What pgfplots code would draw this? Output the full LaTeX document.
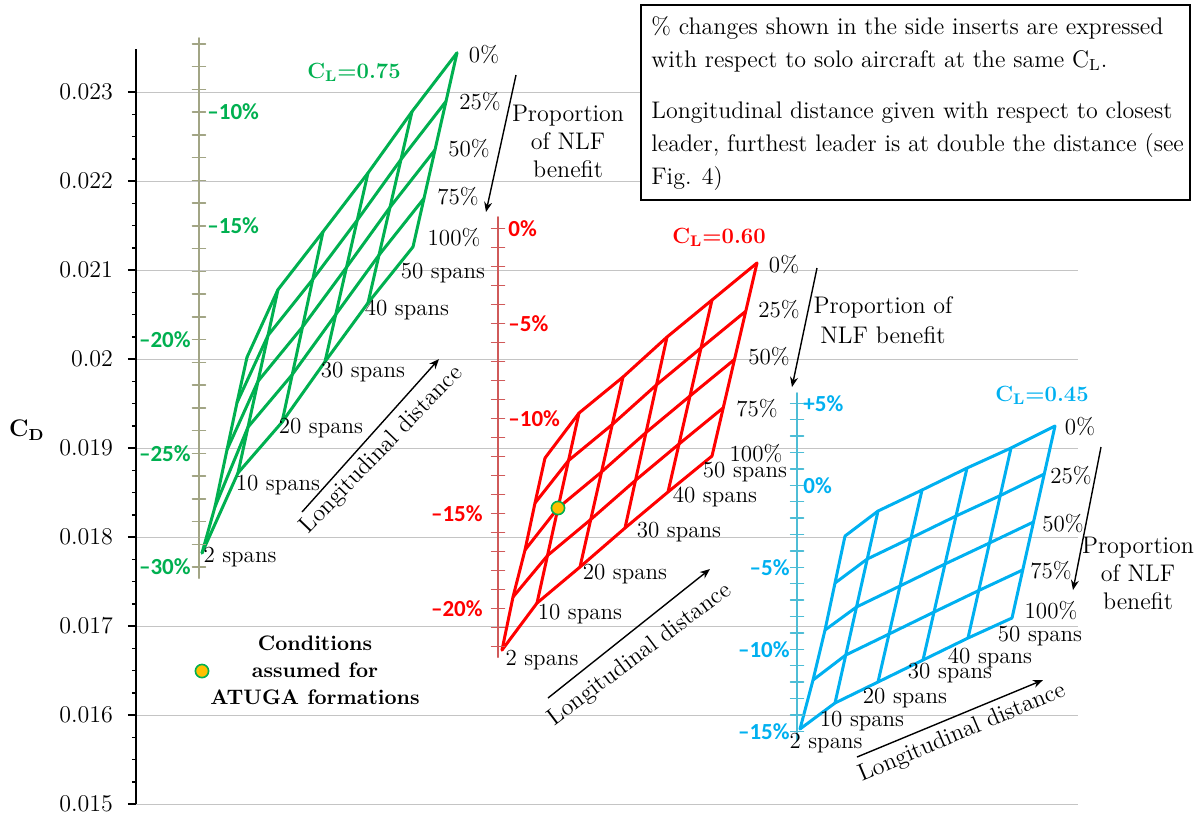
\documentclass[border=0pt]{standalone}
\usepackage{fontspec}
\usepackage{pgfplots}
\pgfplotsset{compat=1.18}
\usetikzlibrary{arrows.meta}
\newfontfamily\carlito{Carlito}
\definecolor{cg}{HTML}{00B050}
\definecolor{cr}{HTML}{FF0000}
\definecolor{cb}{HTML}{00B0F0}
\definecolor{ig}{HTML}{A2A585}
\definecolor{ir}{HTML}{D05A5A}
\definecolor{ib}{HTML}{4DBDD6}
\definecolor{orng}{HTML}{FFC000}
\definecolor{gridc}{HTML}{C4C4C4}
\newcommand\ft{\fontsize{11.5}{14}\selectfont}
\newcommand\insfont{\carlito\bfseries\fontsize{11.5}{14}\selectfont}
\tikzset{lab/.style={font=\ft, inner sep=0pt},
  arr/.style={-{Stealth[length=5pt,width=4pt]}, line width=0.7pt}}
\begin{document}
\begin{tikzpicture}
\begin{axis}[
  scale only axis, width=471pt, height=377.5pt,
  xmin=136, xmax=1078, ymin=0.015, ymax=0.023483,
  axis x line=none, axis y line*=left,
  ytick={0.015,0.016,0.017,0.018,0.019,0.020,0.021,0.022,0.023},
  yticklabels={0.015,0.016,0.017,0.018,0.019,0.02,0.021,0.022,0.023},
  scaled y ticks=false,
  minor y tick num=3,
  tick align=outside,
  major tick length=4pt, minor tick length=2pt,
  ymajorgrids, major grid style={draw=gridc, line width=0.5pt},
  y axis line style={line width=1pt, black},
  ytick style={black, line width=0.75pt},
  yticklabel style={font=\fontsize{12}{14}\selectfont, xshift=-4pt},
  clip=false,
  unbounded coords=jump,
  every axis plot/.append style={line join=round, line cap=round},
]
% ---------- side inserts ----------
\addplot[ig, line width=1pt] coordinates {(199,0.0236067)(199,0.0175393)};
\addplot[ig, only marks, mark=-, mark size=3.25pt, mark options={line width=0.75pt}] coordinates {
(199,0.0235418)(199,0.0232862)(199,0.0230306)(199,0.022775)(199,0.0225194)(199,0.0222638)
(199,0.0220082)(199,0.0217526)(199,0.021497)(199,0.0212414)(199,0.0209858)(199,0.0207302)
(199,0.0204746)(199,0.020219)(199,0.0199634)(199,0.0197078)(199,0.0194522)(199,0.0191966)
(199,0.018941)(199,0.0186854)(199,0.0184298)(199,0.0181742)(199,0.0179186)(199,0.017663)};
\addplot[ir, line width=1pt] coordinates {(498,0.0215955)(498,0.0166517)};
\addplot[ir, only marks, mark=-, mark size=3.25pt, mark options={line width=0.75pt}] coordinates {
(498,0.0214685)(498,0.021255)(498,0.0210416)(498,0.0208281)(498,0.0206146)(498,0.0204011)
(498,0.0201876)(498,0.0199741)(498,0.0197606)(498,0.0195472)(498,0.0193337)(498,0.0191202)
(498,0.0189067)(498,0.0186932)(498,0.0184797)(498,0.0182662)(498,0.0180528)(498,0.0178393)
(498,0.0176258)(498,0.0174123)(498,0.0171988)(498,0.0169853)(498,0.0167718)};
\addplot[ib, line width=1pt] coordinates {(797,0.019618)(797,0.0157191)};
\addplot[ib, only marks, mark=-, mark size=3.25pt, mark options={line width=0.75pt}] coordinates {
(797,0.0195022)(797,0.0193179)(797,0.0191336)(797,0.0189494)(797,0.0187651)(797,0.0185809)
(797,0.0183966)(797,0.0182123)(797,0.0180281)(797,0.0178438)(797,0.0176595)(797,0.0174753)
(797,0.017291)(797,0.0171067)(797,0.0169224)(797,0.0167382)(797,0.0165539)(797,0.0163696)
(797,0.0161854)(797,0.0160011)(797,0.0158168)};
% ---------- CL = 0.75 carpet ----------
\addplot[cg, line width=1.5pt] coordinates {
(247,0.02002)(278,0.02078)(323,0.02143)(368,0.02209)(412,0.02278)(457,0.02344) (nan,nan)
(237,0.01951)(268,0.020265)(312.75,0.020895)(357.25,0.02156)(401,0.022243)(446,0.022895) (nan,nan)
(227,0.01898)(258,0.01975)(302.5,0.02036)(346.5,0.02103)(390,0.021705)(435,0.02235) (nan,nan)
(215,0.01834)(248,0.019235)(292.25,0.019825)(335.75,0.0205)(379,0.021168)(424,0.021805) (nan,nan)
(202,0.01782)(238,0.01872)(282,0.01929)(325,0.01997)(368,0.02063)(413,0.02126)};
\addplot[cg, line width=1.5pt] coordinates {
(247,0.02002)(237,0.01951)(227,0.01898)(215,0.01834)(202,0.01782) (nan,nan)
(278,0.02078)(268,0.020265)(258,0.01975)(248,0.019235)(238,0.01872) (nan,nan)
(323,0.02143)(312.75,0.020895)(302.5,0.02036)(292.25,0.019825)(282,0.01929) (nan,nan)
(368,0.02209)(357.25,0.02156)(346.5,0.02103)(335.75,0.0205)(325,0.01997) (nan,nan)
(412,0.02278)(401,0.022243)(390,0.021705)(379,0.021168)(368,0.02063) (nan,nan)
(457,0.02344)(446,0.022895)(435,0.02235)(424,0.021805)(413,0.02126)};
% ---------- CL = 0.60 carpet ----------
\addplot[cr, line width=1.5pt] coordinates {
(545,0.018888)(579,0.019393)(623,0.019798)(667,0.020247)(712,0.020663)(757,0.021079) (nan,nan)
(535,0.018382)(568.5,0.018859)(612.25,0.019264)(656.5,0.01971)(701,0.020124)(745.75,0.020537) (nan,nan)
(525,0.017854)(558,0.018326)(601.5,0.018731)(646,0.019174)(690,0.019585)(734.5,0.019995) (nan,nan)
(513,0.017326)(547.5,0.017792)(590.75,0.018197)(635.5,0.018637)(679,0.019045)(723.25,0.019452) (nan,nan)
(502,0.01673)(537,0.017258)(580,0.017663)(625,0.018101)(668,0.018506)(712,0.01891)};
\addplot[cr, line width=1.5pt] coordinates {
(545,0.018888)(535,0.018382)(525,0.017854)(513,0.017326)(502,0.01673) (nan,nan)
(579,0.019393)(568.5,0.018859)(558,0.018326)(547.5,0.017792)(537,0.017258) (nan,nan)
(623,0.019798)(612.25,0.019264)(601.5,0.018731)(590.75,0.018197)(580,0.017663) (nan,nan)
(667,0.020247)(656.5,0.01971)(646,0.019174)(635.5,0.018637)(625,0.018101) (nan,nan)
(712,0.020663)(701,0.020124)(690,0.019585)(679,0.019045)(668,0.018506) (nan,nan)
(757,0.021079)(745.75,0.020537)(734.5,0.019995)(723.25,0.019452)(712,0.01891)};
% ---------- CL = 0.45 carpet ----------
\addplot[cb, line width=1.5pt] coordinates {
(845,0.018011)(878,0.018292)(922,0.018528)(967,0.018775)(1011,0.019)(1055,0.019247) (nan,nan)
(835,0.017483)(867.25,0.017753)(911,0.017989)(956,0.018236)(1000.25,0.018466)(1044.25,0.018708) (nan,nan)
(825,0.016955)(856.5,0.017214)(900,0.01745)(945,0.017697)(989.5,0.017933)(1033.5,0.018169) (nan,nan)
(813,0.016393)(845.75,0.016674)(889,0.01691)(934,0.017157)(978.75,0.017399)(1022.75,0.01763) (nan,nan)
(800,0.015843)(835,0.016135)(878,0.016371)(923,0.016618)(968,0.016865)(1012,0.01709)};
\addplot[cb, line width=1.5pt] coordinates {
(845,0.018011)(835,0.017483)(825,0.016955)(813,0.016393)(800,0.015843) (nan,nan)
(878,0.018292)(867.25,0.017753)(856.5,0.017214)(845.75,0.016674)(835,0.016135) (nan,nan)
(922,0.018528)(911,0.017989)(900,0.01745)(889,0.01691)(878,0.016371) (nan,nan)
(967,0.018775)(956,0.018236)(945,0.017697)(934,0.017157)(923,0.016618) (nan,nan)
(1011,0.019)(1000.25,0.018466)(989.5,0.017933)(978.75,0.017399)(968,0.016865) (nan,nan)
(1055,0.019247)(1044.25,0.018708)(1033.5,0.018169)(1022.75,0.01763)(1012,0.01709)};
% ---------- ATUGA condition markers ----------
\addplot[only marks, mark=*, mark size=3.3pt, mark options={fill=orng, draw=cg, line width=0.8pt}] coordinates {(558,0.018326)};
\addplot[only marks, mark=*, mark size=3.3pt, mark options={fill=orng, draw=cg, line width=0.8pt}] coordinates {(202,0.016494)};
% ---------- insert labels ----------
\node[font=\insfont, text=cg, anchor=west, inner sep=0pt] at (axis cs:207,0.022775) {–10\%};
\node[font=\insfont, text=cg, anchor=west, inner sep=0pt] at (axis cs:207,0.021497) {–15\%};
\node[font=\insfont, text=cg, anchor=east, inner sep=0pt] at (axis cs:191,0.020219) {–20\%};
\node[font=\insfont, text=cg, anchor=east, inner sep=0pt] at (axis cs:191,0.018941) {–25\%};
\node[font=\insfont, text=cg, anchor=east, inner sep=0pt] at (axis cs:191,0.017663) {–30\%};
\node[font=\insfont, text=cr, anchor=west, inner sep=0pt] at (axis cs:508,0.0214685) {0\%};
\node[font=\insfont, text=cr, anchor=west, inner sep=0pt] at (axis cs:508,0.0204011) {–5\%};
\node[font=\insfont, text=cr, anchor=west, inner sep=0pt] at (axis cs:508,0.0193337) {–10\%};
\node[font=\insfont, text=cr, anchor=east, inner sep=0pt] at (axis cs:483,0.0182662) {–15\%};
\node[font=\insfont, text=cr, anchor=east, inner sep=0pt] at (axis cs:483,0.0171988) {–20\%};
\node[font=\insfont, text=cb, anchor=west, inner sep=0pt] at (axis cs:803,0.0195022) {+5\%};
\node[font=\insfont, text=cb, anchor=west, inner sep=0pt] at (axis cs:803,0.0185809) {0\%};
\node[font=\insfont, text=cb, anchor=east, inner sep=0pt] at (axis cs:790,0.0176595) {–5\%};
\node[font=\insfont, text=cb, anchor=east, inner sep=0pt] at (axis cs:790,0.0167382) {–10\%};
\node[font=\insfont, text=cb, anchor=east, inner sep=0pt] at (axis cs:790,0.0158168) {–15\%};
% ---------- CL titles ----------
\node[font=\bfseries\fontsize{11}{13}\selectfont, text=cg, inner sep=0pt] at (axis cs:354,0.0232247) {C\textsubscript{L}=0.75};
\node[font=\bfseries\fontsize{11}{13}\selectfont, text=cr, inner sep=0pt] at (axis cs:719,0.0213708) {C\textsubscript{L}=0.60};
\node[font=\bfseries\fontsize{11}{13}\selectfont, text=cb, inner sep=0pt] at (axis cs:1042,0.0195955) {C\textsubscript{L}=0.45};
% ---------- green labels ----------
\node[lab] at (axis cs:484,0.0234157) {0\%};
\node[lab] at (axis cs:480,0.0228876) {25\%};
\node[lab] at (axis cs:469,0.0223596) {50\%};
\node[lab] at (axis cs:458,0.0218202) {75\%};
\node[lab] at (axis cs:454,0.0213596) {100\%};
\node[lab] at (axis cs:443,0.0209663) {50 spans};
\node[lab] at (axis cs:407,0.0205506) {40 spans};
\node[lab] at (axis cs:363,0.0198539) {30 spans};
\node[lab] at (axis cs:321,0.0192247) {20 spans};
\node[lab] at (axis cs:278,0.0185843) {10 spans};
\node[lab] at (axis cs:240,0.0177753) {2 spans};
\draw[arr] (axis cs:302,0.0182809) -- (axis cs:439,0.0200);
\node[lab, font=\fontsize{12}{14}\selectfont, rotate=46] at (axis cs:382,0.0189775) {Longitudinal distance};
\draw[arr] (axis cs:516,0.023191) -- (axis cs:486,0.0216517);
\node[lab, align=center, font=\fontsize{12}{14}\selectfont] at (axis cs:568,0.0224494) {Proportion\\of NLF\\benefit};
% ---------- red labels ----------
\node[lab] at (axis cs:784,0.0210674) {0\%};
\node[lab] at (axis cs:779,0.0205506) {25\%};
\node[lab] at (axis cs:769,0.0200225) {50\%};
\node[lab] at (axis cs:757,0.0194494) {75\%};
\node[lab] at (axis cs:756,0.0189438) {100\%};
\node[lab] at (axis cs:745,0.0187303) {50 spans};
\node[lab] at (axis cs:715,0.0184494) {40 spans};
\node[lab] at (axis cs:679,0.0180562) {30 spans};
\node[lab] at (axis cs:625,0.0175843) {20 spans};
\node[lab] at (axis cs:580,0.0171348) {10 spans};
\node[lab] at (axis cs:542,0.016618) {2 spans};
\draw[arr] (axis cs:548,0.016191) -- (axis cs:710,0.0176404);
\node[lab, font=\fontsize{12}{14}\selectfont, rotate=37] at (axis cs:640,0.0166742) {Longitudinal distance};
\draw[arr] (axis cs:817,0.0210225) -- (axis cs:792,0.0196854);
\node[lab, align=center, font=\fontsize{12}{15}\selectfont] at (axis cs:883,0.0204382) {Proportion of\\NLF benefit};
% ---------- blue labels ----------
\node[lab] at (axis cs:1080,0.0192472) {0\%};
\node[lab] at (axis cs:1071,0.0186966) {25\%};
\node[lab] at (axis cs:1063,0.0181573) {50\%};
\node[lab] at (axis cs:1051,0.0176292) {75\%};
\node[lab] at (axis cs:1051,0.0171798) {100\%};
\node[lab] at (axis cs:1040,0.0168876) {50 spans};
\node[lab] at (axis cs:990,0.0166404) {40 spans};
\node[lab] at (axis cs:950,0.0164719) {30 spans};
\node[lab] at (axis cs:905,0.016191) {20 spans};
\node[lab] at (axis cs:862,0.0159326) {10 spans};
\node[lab] at (axis cs:826,0.0156854) {2 spans};
\draw[arr] (axis cs:857,0.0155281) -- (axis cs:1043,0.0163933);
\node[lab, font=\fontsize{12}{14}\selectfont, rotate=23] at (axis cs:962,0.0157978) {Longitudinal distance};
\draw[arr] (axis cs:1101,0.0190112) -- (axis cs:1073,0.0174045);
\node[lab, align=center, font=\fontsize{12}{14}\selectfont] at (axis cs:1138,0.0175955) {Proportion\\of NLF\\benefit};
% ---------- legend text ----------
\node[lab, align=center, font=\bfseries\fontsize{10.5}{13.5}\selectfont] at (axis cs:315,0.0165056) {Conditions\\assumed for\\ATUGA formations};
% ---------- CD label ----------
\node[inner sep=0pt, font=\bfseries\fontsize{12}{14}\selectfont] at (axis cs:27,0.0192022) {C\textsubscript{D}};
% ---------- note box ----------
\draw[fill=white, line width=0.75pt] (axis cs:641,0.0239775) rectangle (axis cs:1190,0.0217865);
\node[anchor=base west, inner sep=0pt, font=\fontsize{12}{14}\selectfont] at (axis cs:651,0.0236517) {\% changes shown in the side inserts are expressed};
\node[anchor=base west, inner sep=0pt, font=\fontsize{12}{14}\selectfont] at (axis cs:651,0.0232809) {with respect to solo aircraft at the same C\textsubscript{L}.};
\node[anchor=base west, inner sep=0pt, font=\fontsize{12}{14}\selectfont] at (axis cs:651,0.0227079) {Longitudinal distance given with respect to closest};
\node[anchor=base west, inner sep=0pt, font=\fontsize{12}{14}\selectfont] at (axis cs:651,0.0223371) {leader, furthest leader is at double the distance (see};
\node[anchor=base west, inner sep=0pt, font=\fontsize{12}{14}\selectfont] at (axis cs:651,0.0219663) {Fig. 4)};
% ---------- page frame ----------
\coordinate (bl) at (axis cs:0,0.014888);
\coordinate (tr) at (axis cs:1199,0.024034);
\end{axis}
\pgfresetboundingbox
\path[use as bounding box] (bl) rectangle (tr);
\end{tikzpicture}
\end{document}
